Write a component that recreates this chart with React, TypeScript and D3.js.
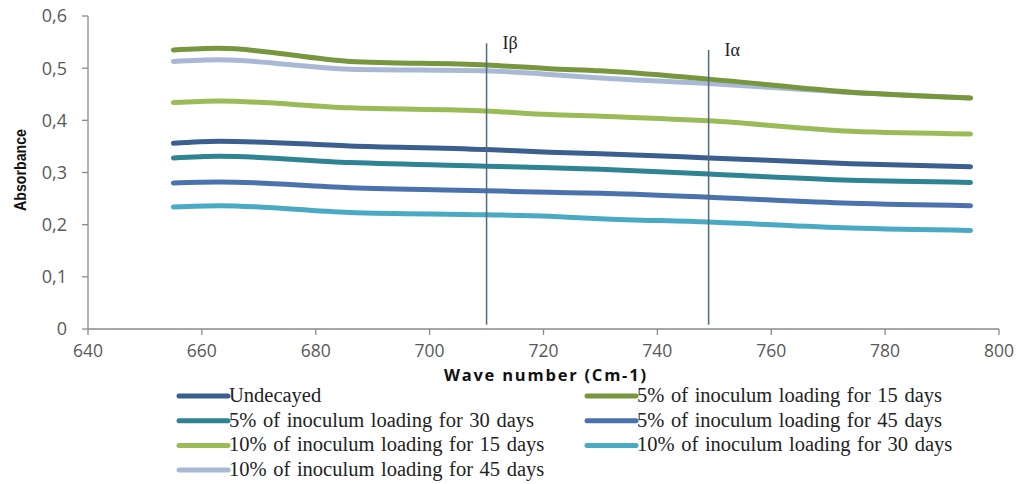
import React from "react";
import * as d3 from "d3";

const waves = [655, 663, 686, 710, 721, 730, 749, 774, 795];

const undecayed = [0.356, 0.36, 0.351, 0.344, 0.339, 0.336, 0.328, 0.317, 0.311];
const p5d15 = [0.535, 0.538, 0.513, 0.506, 0.499, 0.495, 0.479, 0.454, 0.443];
const p5d30 = [0.328, 0.331, 0.319, 0.312, 0.309, 0.306, 0.297, 0.285, 0.281];
const p5d45 = [0.28, 0.282, 0.271, 0.265, 0.262, 0.26, 0.2525, 0.241, 0.2365];
const p10d15 = [0.434, 0.437, 0.424, 0.418, 0.411, 0.408, 0.399, 0.379, 0.374];
const p10d30 = [0.234, 0.2365, 0.2235, 0.219, 0.216, 0.2115, 0.205, 0.1935, 0.189];
const p10d45 = [0.513, 0.516, 0.498, 0.495, 0.488, 0.481, 0.4705, 0.4535, 0.443];

const seriesNames = [
  "Undecayed",
  "5% of inoculum loading for 15 days",
  "5% of inoculum loading for 30 days",
  "5% of inoculum loading for 45 days",
  "10% of inoculum loading for 15 days",
  "10% of inoculum loading for 30 days",
  "10% of inoculum loading for 45 days",
];
const seriesValues = [undecayed, p5d15, p5d30, p5d45, p10d15, p10d30, p10d45];
const colors = ["#3B5F8E", "#78963D", "#2F8494", "#4A73AD", "#9BBB59", "#4BAAC3", "#A9B9D5"];

const xTicks = [640, 660, 680, 700, 720, 740, 760, 780, 800];
const yTicks = [0, 0.1, 0.2, 0.3, 0.4, 0.5, 0.6];

// marker lines (Iβ, Iα)
const markers = [
  { label: "Iβ", wave: 710, top: 0.548 },
  { label: "Iα", wave: 749, top: 0.535 },
];

const W = 1019;
const H = 484;

export default function App() {
  const x = d3.scaleLinear().domain([640, 800]).range([88, 999]);
  const y = d3.scaleLinear().domain([0, 0.6]).range([329, 16]);

  const line = d3
    .line<[number, number]>()
    .x((d) => x(d[0]))
    .y((d) => y(d[1]))
    .curve(d3.curveMonotoneX);

  const axisColor = "#8a8a8a";
  const tickFont = "'Open Sans', sans-serif";
  const legendFont = "'Liberation Serif', 'Times New Roman', serif";

  // draw order: lower lines first, the two top ones last
  const order = [5, 3, 2, 0, 4, 6, 1];

  return (
    <svg width={W} height={H} style={{ position: "absolute", left: 0, top: 0, background: "#fff" }}>
      <rect width={W} height={H} fill="#fff" />

      {/* axes */}
      <line x1={x(640)} x2={x(640)} y1={y(0.6)} y2={y(0)} stroke={axisColor} strokeWidth={1.3} />
      <line x1={x(640)} x2={x(800)} y1={y(0)} y2={y(0)} stroke={axisColor} strokeWidth={1.3} />
      {yTicks.map((t) => (
        <g key={"y" + t}>
          <line x1={x(640) - 6} x2={x(640)} y1={y(t)} y2={y(t)} stroke={axisColor} strokeWidth={1.3} />
          <text x={67} y={y(t)} dy="0.36em" textAnchor="end" fontFamily={tickFont} fontSize={18} fill="#595959">
            {t === 0 ? "0" : t.toFixed(1).replace(".", ",")}
          </text>
        </g>
      ))}
      {xTicks.map((t) => (
        <g key={"x" + t}>
          <line x1={x(t)} x2={x(t)} y1={y(0)} y2={y(0) + 6} stroke={axisColor} strokeWidth={1.3} />
          <text x={x(t)} y={357} textAnchor="middle" fontFamily={tickFont} fontSize={17.5} fill="#595959">
            {t}
          </text>
        </g>
      ))}

      {/* axis titles */}
      <text
        transform={`translate(26,170) rotate(-90)`}
        textAnchor="middle"
        fontFamily="'Liberation Sans', Arial, sans-serif"
        fontWeight="bold"
        fontSize={16}
        fill="#111"
        textLength={82}
        lengthAdjust="spacingAndGlyphs"
      >
        Absorbance
      </text>
      <text
        x={444}
        y={381}
        fontFamily="'Open Sans', sans-serif"
        fontWeight="bold"
        fontSize={16.5}
        fill="#111"
        textLength={202}
        lengthAdjust="spacing"
      >
        Wave number (Cm-1)
      </text>

      {/* series */}
      {order.map((i) => (
        <path
          key={seriesNames[i]}
          d={line(waves.map((w, k) => [w, seriesValues[i][k]] as [number, number])) || ""}
          fill="none"
          stroke={colors[i]}
          strokeWidth={5}
          strokeLinecap="round"
        />
      ))}

      {/* Iβ / Iα markers */}
      {markers.map((m) => (
        <g key={m.label}>
          <line x1={x(m.wave)} x2={x(m.wave)} y1={y(m.top)} y2={y(0.008)} stroke="#4d6b7c" strokeWidth={1.5} />
          <text x={x(m.wave) + 16} y={y(m.top) + 6} fontFamily={legendFont} fontSize={18} fill="#222">
            {m.label}
          </text>
        </g>
      ))}

      {/* legend */}
      {seriesNames.map((name, i) => {
        const col = i % 2;
        const row = Math.floor(i / 2);
        const lx = col === 0 ? 179 : 587;
        const ly = 396 + row * 24.7;
        return (
          <g key={"lg" + name}>
            <line x1={lx} x2={lx + 49} y1={ly} y2={ly} stroke={colors[i]} strokeWidth={5} strokeLinecap="round" />
            <text x={lx + 50} y={ly + 6} fontFamily={legendFont} fontSize={20.5} fill="#222" style={{ wordSpacing: "1.5px" }}>
              {name}
            </text>
          </g>
        );
      })}
    </svg>
  );
}
